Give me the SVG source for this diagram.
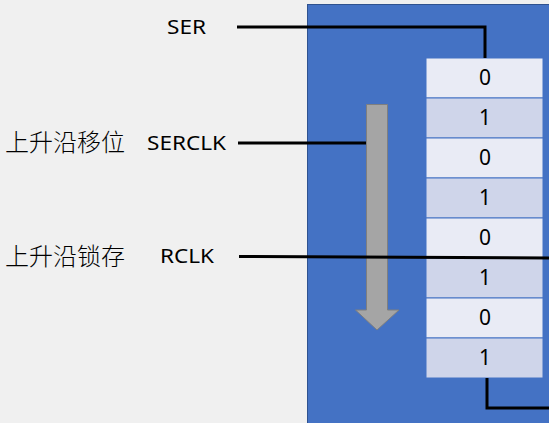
<svg xmlns="http://www.w3.org/2000/svg" width="549" height="423" viewBox="0 0 549 423">
<style>
.lbl{font-family:"Noto Sans","Noto Sans CJK SC",sans-serif;font-size:20px;fill:#000}
.cn{font-family:"Noto Sans CJK SC",sans-serif;font-size:24px;font-weight:300;fill:#000}
.num{font-family:"Noto Sans","Noto Sans CJK SC",sans-serif;font-size:21px;fill:#000;text-anchor:middle}
.wire{fill:none;stroke:#000;stroke-width:3}
.ca{fill:#E9EBF5;stroke:#4472C4;stroke-width:1}
.cb{fill:#CFD5EA;stroke:#4472C4;stroke-width:1}
</style>
<rect width="549" height="423" fill="#F0F0F0"/>
<g id="chip">
<rect x="307.5" y="4.5" width="250" height="430" fill="#4472C4" stroke="#2F528F" stroke-width="1"/>
</g>
<g id="shift-arrow">
<path d="M366.5 104.5 H387.5 V310 H399 L377 330 L355.5 310 H366.5 Z" fill="#A5A5A5" stroke="#7F7F7F" stroke-width="1"/>
</g>
<g id="register">
<rect class="ca" x="426" y="58" width="117" height="40"/>
<rect class="cb" x="426" y="98" width="117" height="40"/>
<rect class="ca" x="426" y="138" width="117" height="40"/>
<rect class="cb" x="426" y="178" width="117" height="40"/>
<rect class="ca" x="426" y="218" width="117" height="40"/>
<rect class="cb" x="426" y="258" width="117" height="40"/>
<rect class="ca" x="426" y="298" width="117" height="40"/>
<rect class="cb" x="426" y="338" width="117" height="40"/>
<text class="num" x="485" y="85">0</text>
<text class="num" x="485" y="125">1</text>
<text class="num" x="485" y="165">0</text>
<text class="num" x="485" y="205">1</text>
<text class="num" x="485" y="245">0</text>
<text class="num" x="485" y="285">1</text>
<text class="num" x="485" y="325">0</text>
<text class="num" x="485" y="365">1</text>
</g>
<g id="labels">
<text class="lbl" x="167" y="34" textLength="39" lengthAdjust="spacingAndGlyphs">SER</text>
<text class="lbl" x="147" y="150" textLength="79" lengthAdjust="spacingAndGlyphs">SERCLK</text>
<text class="lbl" x="160" y="263" textLength="54" lengthAdjust="spacingAndGlyphs">RCLK</text>
<text class="cn" x="5" y="151">上升沿移位</text>
<text class="cn" x="5" y="265">上升沿锁存</text>
</g>
<g id="connectors">
<polyline class="wire" points="237,27 485,27 485,58"/>
<line class="wire" x1="238" y1="143" x2="366" y2="143"/>
<line class="wire" x1="239" y1="256.5" x2="549" y2="258"/>
<polyline class="wire" points="487,378 487,408 549,408"/>
</g>
</svg>
